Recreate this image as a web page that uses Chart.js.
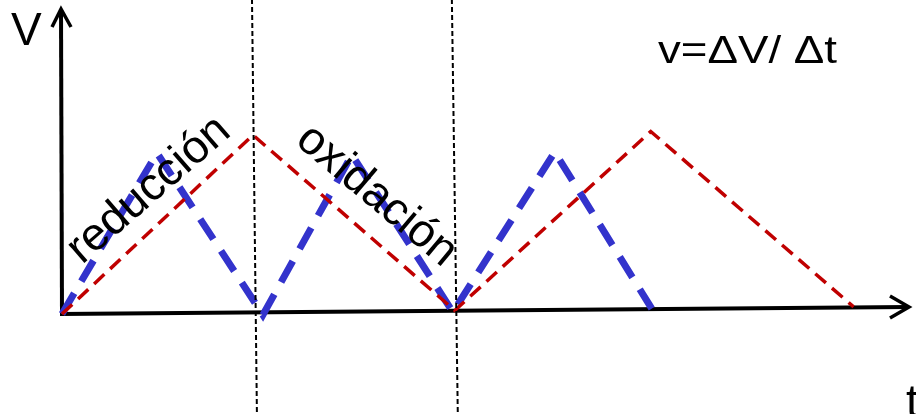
<!DOCTYPE html>
<html>
<head>
<meta charset="utf-8">
<script src="https://cdn.jsdelivr.net/npm/chart.js@4.4.0/dist/chart.umd.min.js"></script>
<style>
  body { margin: 0; background: #fff; }
  #wrap { width: 916px; height: 414px; position: relative; }
</style>
</head>
<body>
<div id="wrap"><canvas id="cv"></canvas></div>
<script>
// time points (t units) and potentials (V units)
const redT = [0, 1.93, 3.97, 5.95, 8.0];
const redV = [0, 1.0, 0.02, 1.02, 0.04];
const blueT = [0, 0.96, 2.03, 2.93, 3.95, 4.98, 5.96];
const blueV = [0, 0.90, -0.005, 0.89, 0.01, 0.905, 0.03];
// the two vertical separators
const sep1T = [1.92, 1.97];
const sep2T = [3.94, 4.0];
const sepV = [1.76, -0.56];

const toPts = (xs, ys) => xs.map((x, i) => ({ x: x, y: ys[i] }));

const FONT = '"Liberation Sans", Arial, sans-serif';

// rotated label at baseline start (x, y)
function rotText(ctx, txt, x, y, deg) {
  ctx.save();
  ctx.translate(x, y);
  ctx.rotate(deg * Math.PI / 180);
  ctx.fillText(txt, 0, 0);
  ctx.restore();
}

const decor = {
  id: 'decor',
  beforeDatasetsDraw(chart) {
    const { ctx, scales: { x, y } } = chart;
    const x0 = x.getPixelForValue(0), y0 = y.getPixelForValue(0);
    const yTop = y.getPixelForValue(y.max), xEnd = x.getPixelForValue(x.max);
    ctx.save();
    ctx.strokeStyle = '#000';
    ctx.lineWidth = 4;
    // y axis with arrow
    ctx.beginPath();
    ctx.moveTo(x0, y0 + 1); ctx.lineTo(x0 - 1, yTop + 2);
    ctx.stroke();
    ctx.lineWidth = 3.5;
    ctx.beginPath();
    ctx.moveTo(x0 - 10, yTop + 19); ctx.lineTo(x0 - 1, yTop + 1); ctx.lineTo(x0 + 9, yTop + 19);
    ctx.stroke();
    // x axis with arrow (slightly tilted like the original)
    ctx.lineWidth = 4;
    ctx.beginPath();
    ctx.moveTo(x0 - 2, y0); ctx.lineTo(xEnd - 2, y0 - 7);
    ctx.stroke();
    ctx.lineWidth = 3.5;
    ctx.beginPath();
    ctx.moveTo(xEnd - 20, y0 - 18); ctx.lineTo(xEnd - 1, y0 - 7); ctx.lineTo(xEnd - 20, y0 + 4);
    ctx.stroke();
    ctx.restore();
  },
  afterDatasetsDraw(chart) {
    const { ctx } = chart;
    ctx.save();
    ctx.fillStyle = '#000';
    ctx.textBaseline = 'alphabetic';
    ctx.textAlign = 'left';
    ctx.font = '46px ' + FONT;
    ctx.fillText('V', 11, 45);
    ctx.fillText('t', 906, 417);

    // formula, stretched to the width it has in the picture
    ctx.font = '39px ' + FONT;
    const f = 'v=\u0394V/ \u0394t';
    const w = ctx.measureText(f).width;
    ctx.save();
    ctx.translate(658, 63);
    ctx.scale(179 / w, 1);
    ctx.fillText(f, 0, 0);
    ctx.restore();

    ctx.font = '46px ' + FONT;
    rotText(ctx, 'reducci\u00f3n', 82, 265, -41);
    rotText(ctx, 'oxidaci\u00f3n', 294, 143, 40);
    ctx.restore();
  }
};

new Chart(document.getElementById('cv'), {
  type: 'scatter',
  data: {
    datasets: [
      {
        data: toPts(sep1T, sepV),
        showLine: true, borderColor: '#000', borderWidth: 2,
        borderDash: [5, 3], pointRadius: 0, clip: false
      },
      {
        data: toPts(sep2T, sepV),
        showLine: true, borderColor: '#000', borderWidth: 2,
        borderDash: [5, 3], pointRadius: 0, clip: false
      },
      {
        data: toPts(redT, redV),
        showLine: true, borderColor: '#c00000', borderWidth: 3.5,
        borderDash: [14, 8], pointRadius: 0, clip: false
      },
      {
        data: toPts(blueT, blueV),
        showLine: true, borderColor: '#3333cc', borderWidth: 7,
        borderDash: [24, 14], pointRadius: 0, clip: false
      }
    ]
  },
  options: {
    responsive: true,
    maintainAspectRatio: false,
    animation: false,
    layout: { padding: { left: 62, right: 6, top: 8, bottom: 100 } },
    plugins: { legend: { display: false }, tooltip: { enabled: false } },
    scales: {
      x: { type: 'linear', min: 0, max: 8.57, display: false },
      y: { type: 'linear', min: 0, max: 1.71, display: false }
    }
  },
  plugins: [decor]
});
</script>
</body>
</html>
